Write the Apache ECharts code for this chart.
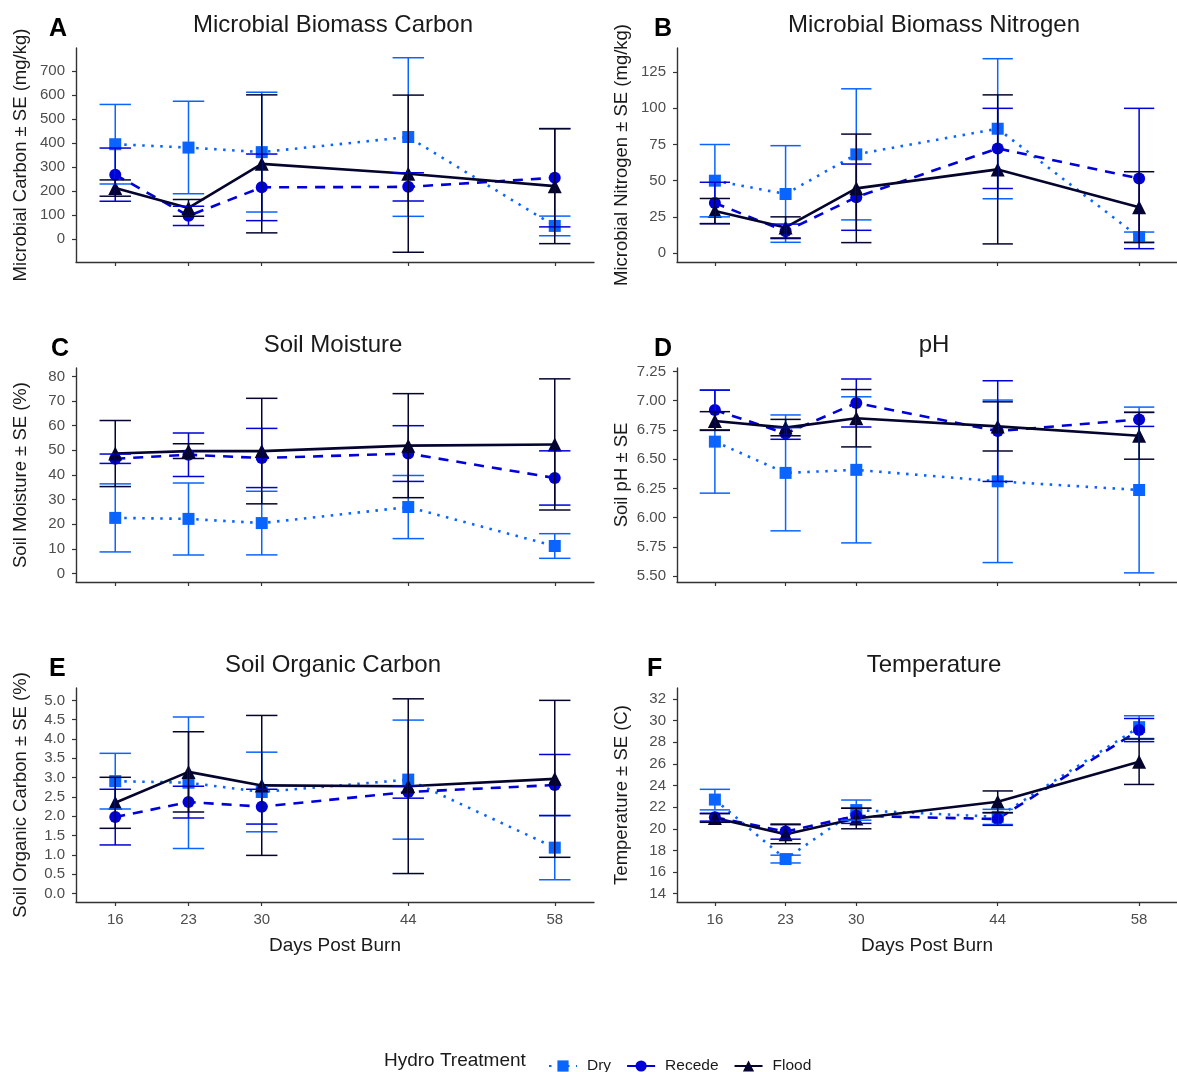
<!DOCTYPE html>
<html>
<head>
<meta charset="utf-8">
<script src="https://cdn.jsdelivr.net/npm/echarts@6/dist/echarts.min.js"></script>
<style>
html,body{margin:0;padding:0;background:#fff;}
#chart{width:1177px;height:1072px;}
</style>
</head>
<body>
<div id="chart"></div>
<script>
// ---------------- DATA ----------------
const days = [16, 23, 30, 44, 58];
const treatments = ['Dry', 'Recede', 'Flood'];

// A: Microbial Biomass Carbon (mg/kg)
const mbcDryMean = [395, 381, 362, 425, 54];
const mbcDrySE = [166, 193, 250, 331, 41];
const mbcRecedeMean = [268, 96, 215, 217, 255];
const mbcRecedeSE = [111, 40, 139, 59, 205];
const mbcFloodMean = [212, 129, 313, 272, 220];
const mbcFloodSE = [34, 35, 288, 328, 240];
const mbcTicks = [0, 100, 200, 300, 400, 500, 600, 700];

// B: Microbial Biomass Nitrogen (mg/kg)
const mbnDryMean = [50, 40.8, 68.2, 85.9, 11];
const mbnDrySE = [25, 33.4, 45.3, 48.4, 3.5];
const mbnRecedeMean = [34.6, 15, 38.6, 72.3, 51.5];
const mbnRecedeSE = [14.3, 5, 22.9, 27.7, 48.5];
const mbnFloodMean = [29, 17.7, 44.7, 57.8, 31.7];
const mbnFloodSE = [8.7, 7.3, 37.5, 51.5, 24.5];
const mbnTicks = [0, 25, 50, 75, 100, 125];

// C: Soil Moisture (%)
const smDryMean = [22.6, 22.2, 20.5, 27, 11.2];
const smDrySE = [13.8, 14.6, 12.9, 12.8, 5];
const smRecedeMean = [46.6, 48.2, 46.9, 48.7, 38.8];
const smRecedeSE = [1.9, 8.8, 12, 11.3, 11];
const smFloodMean = [48.7, 49.7, 49.7, 51.9, 52.4];
const smFloodSE = [13.4, 3, 21.4, 21.1, 26.6];
const smTicks = [0, 10, 20, 30, 40, 50, 60, 70, 80];

// D: pH
const phDryMean = [6.65, 6.383, 6.409, 6.311, 6.237];
const phDrySE = [0.44, 0.495, 0.624, 0.694, 0.708];
const phRecedeMean = [6.92, 6.72, 6.98, 6.74, 6.84];
const phRecedeSE = [0.17, 0.05, 0.205, 0.43, 0.06];
const phFloodMean = [6.826, 6.77, 6.85, 6.78, 6.70];
const phFloodSE = [0.08, 0.07, 0.245, 0.21, 0.2];
const phTicks = [5.5, 5.75, 6.0, 6.25, 6.5, 6.75, 7.0, 7.25];

// E: Soil Organic Carbon (%)
const socDryMean = [2.91, 2.87, 2.63, 2.95, 1.19];
const socDrySE = [0.72, 1.7, 1.03, 1.54, 0.83];
const socRecedeMean = [1.98, 2.37, 2.25, 2.63, 2.81];
const socRecedeSE = [0.72, 0.41, 0.45, 0.16, 0.79];
const socFloodMean = [2.35, 3.15, 2.8, 2.78, 2.97];
const socFloodSE = [0.66, 1.04, 1.81, 2.26, 2.03];
const socTicks = [0, 0.5, 1, 1.5, 2, 2.5, 3, 3.5, 4, 4.5, 5];

// F: Temperature (C)
const tDryMean = [22.7, 17.2, 21.73, 21.1, 29.4];
const tDrySE = [0.95, 0.36, 0.93, 0.7, 1.05];
const tRecedeMean = [21.07, 19.74, 21.2, 20.9, 29.13];
const tRecedeSE = [0.36, 0.7, 0.7, 0.58, 1.07];
const tFloodMean = [21.0, 19.5, 20.95, 22.5, 26.2];
const tFloodSE = [0.4, 0.88, 0.95, 1.0, 2.1];
const tTicks = [14, 16, 18, 20, 22, 24, 26, 28, 30, 32];

// ---------------- STYLE / LAYOUT ----------------
const FONT = '"Liberation Sans", Arial, "Helvetica", sans-serif';
const colors = { Dry: '#0a64ff', Recede: '#0000d8', Flood: '#04042e' };
const symbols = { Dry: 'rect', Recede: 'circle', Flood: 'triangle' };
const symbolSizes = { Dry: 12, Recede: 12, Flood: 14 };
const dashes = { Dry: [2.5, 6.5], Recede: [10, 8], Flood: 'solid' };

const panels = [
  { letter: 'A', title: 'Microbial Biomass Carbon', ylab: 'Microbial Carbon \u00b1 SE (mg/kg)',
    left: 76, top: 48, min: -96.6, max: 796.6, ticks: mbcTicks, dec: 0,
    d: [[mbcDryMean, mbcDrySE], [mbcRecedeMean, mbcRecedeSE], [mbcFloodMean, mbcFloodSE]],
    lx: 49, ly: 29, bottom: false },
  { letter: 'B', title: 'Microbial Biomass Nitrogen', ylab: 'Microbial Nitrogen \u00b1 SE (mg/kg)',
    left: 677, top: 48, min: -6.2, max: 141.7, ticks: mbnTicks, dec: 0,
    d: [[mbnDryMean, mbnDrySE], [mbnRecedeMean, mbnRecedeSE], [mbnFloodMean, mbnFloodSE]],
    lx: 654, ly: 29, bottom: false },
  { letter: 'C', title: 'Soil Moisture', ylab: 'Soil Moisture \u00b1 SE (%)',
    left: 76, top: 368, min: -3.4, max: 83.4, ticks: smTicks, dec: 0,
    d: [[smDryMean, smDrySE], [smRecedeMean, smRecedeSE], [smFloodMean, smFloodSE]],
    lx: 51, ly: 349, bottom: false },
  { letter: 'D', title: 'pH', ylab: 'Soil pH \u00b1 SE',
    left: 677, top: 368, min: 5.451, max: 7.279, ticks: phTicks, dec: 2,
    d: [[phDryMean, phDrySE], [phRecedeMean, phRecedeSE], [phFloodMean, phFloodSE]],
    lx: 654, ly: 349, bottom: false },
  { letter: 'E', title: 'Soil Organic Carbon', ylab: 'Soil Organic Carbon \u00b1 SE (%)',
    left: 76, top: 688, min: -0.216, max: 5.32, ticks: socTicks, dec: 1,
    d: [[socDryMean, socDrySE], [socRecedeMean, socRecedeSE], [socFloodMean, socFloodSE]],
    lx: 49, ly: 669, bottom: true },
  { letter: 'F', title: 'Temperature', ylab: 'Temperature \u00b1 SE (C)',
    left: 677, top: 688, min: 13.23, max: 33.02, ticks: tTicks, dec: 0,
    d: [[tDryMean, tDrySE], [tRecedeMean, tRecedeSE], [tFloodMean, tFloodSE]],
    lx: 647, ly: 669, bottom: true }
];

const PLOT_W = 518, PLOT_H = 214;
const XMIN = 12.25, XMAX = 61.75, CAP_HALF = 1.5;

const grids = [], xAxes = [], yAxes = [], series = [], graphics = [];
const axisColor = '#333';
const tickLabelColor = '#4d4d4d';

panels.forEach((p, i) => {
  grids.push({ left: p.left, top: p.top, width: PLOT_W, height: PLOT_H, containLabel: false });
  xAxes.push({
    type: 'value', gridIndex: i, min: XMIN, max: XMAX,
    axisLine: { show: true, onZero: false, lineStyle: { color: axisColor, width: 1.4 } },
    axisTick: { show: true, length: 4, customValues: days, lineStyle: { color: axisColor, width: 1.2 } },
    axisLabel: { show: p.bottom, customValues: days, margin: 10, color: tickLabelColor, fontSize: 15, fontFamily: FONT },
    splitLine: { show: false },
    name: p.bottom ? 'Days Post Burn' : '', nameLocation: 'middle', nameGap: 34,
    nameTextStyle: { fontSize: 19, color: '#1a1a1a', fontFamily: FONT }
  });
  yAxes.push({
    type: 'value', gridIndex: i, min: p.min, max: p.max,
    axisLine: { show: true, onZero: false, lineStyle: { color: axisColor, width: 1.4 } },
    axisTick: { show: true, length: 4, customValues: p.ticks, lineStyle: { color: axisColor, width: 1.2 } },
    axisLabel: { show: true, customValues: p.ticks, margin: 11, color: tickLabelColor, fontSize: 15, fontFamily: FONT,
      formatter: (v) => Number(v).toFixed(p.dec) },
    splitLine: { show: false },
    name: p.ylab, nameLocation: 'middle', nameGap: 46, nameRotate: 90,
    nameTextStyle: { fontSize: 18.5, color: '#1a1a1a', fontFamily: FONT }
  });
  // titles and letters
  graphics.push({ type: 'text', x: p.left + PLOT_W / 2 - 2, y: p.top - 23, z: 100,
    style: { text: p.title, font: '24px ' + FONT, fill: '#1a1a1a', align: 'center', verticalAlign: 'middle' } });
  graphics.push({ type: 'text', x: p.lx, y: p.ly, z: 100,
    style: { text: p.letter, font: 'bold 25px ' + FONT, fill: '#000', align: 'left', verticalAlign: 'middle' } });

  // lines + points
  treatments.forEach((t, k) => {
    const means = p.d[k][0];
    series.push({
      name: t, type: 'line', xAxisIndex: i, yAxisIndex: i, z: 2,
      data: days.map((d, j) => [d, means[j]]),
      symbol: symbols[t], symbolSize: symbolSizes[t], showSymbol: true,
      lineStyle: { color: colors[t], width: 2.6, type: dashes[t] },
      itemStyle: { color: colors[t] },
      emphasis: { disabled: true }, animation: false
    });
  });
});

// error bars drawn on top
panels.forEach((p, i) => {
  treatments.forEach((t, k) => {
    const means = p.d[k][0], ses = p.d[k][1];
    series.push({
      name: t + ' SE', type: 'custom', xAxisIndex: i, yAxisIndex: i, z: 3,
      data: days.map((d, j) => [d, means[j] - ses[j], means[j] + ses[j]]),
      renderItem: function (params, api) {
        const x = api.value(0), lo = api.value(1), hi = api.value(2);
        const top = api.coord([x, hi]), bot = api.coord([x, lo]);
        const l = api.coord([x - CAP_HALF, hi])[0], r = api.coord([x + CAP_HALF, hi])[0];
        const st = { stroke: colors[t], lineWidth: 1.5 };
        return {
          type: 'group',
          children: [
            { type: 'line', shape: { x1: top[0], y1: top[1], x2: bot[0], y2: bot[1] }, style: st },
            { type: 'line', shape: { x1: l, y1: top[1], x2: r, y2: top[1] }, style: st },
            { type: 'line', shape: { x1: l, y1: bot[1], x2: r, y2: bot[1] }, style: st }
          ]
        };
      },
      animation: false, silent: true
    });
  });
});

// legend title
graphics.push({ type: 'text', x: 384, y: 1061, z: 100,
  style: { text: 'Hydro Treatment', font: '19px ' + FONT, fill: '#1a1a1a', align: 'left', verticalAlign: 'middle' } });

const chart = echarts.init(document.getElementById('chart'));
chart.setOption({
  backgroundColor: '#fff',
  animation: false,
  grid: grids,
  xAxis: xAxes,
  yAxis: yAxes,
  series: series,
  graphic: graphics,
  legend: {
    data: treatments, left: 543, top: 1053, itemWidth: 28, itemHeight: 14, itemGap: 15,
    textStyle: { fontSize: 15.5, color: '#1a1a1a', fontFamily: FONT, padding: [0, 0, 0, 5] },
    selectedMode: false
  }
});
</script>
</body>
</html>
